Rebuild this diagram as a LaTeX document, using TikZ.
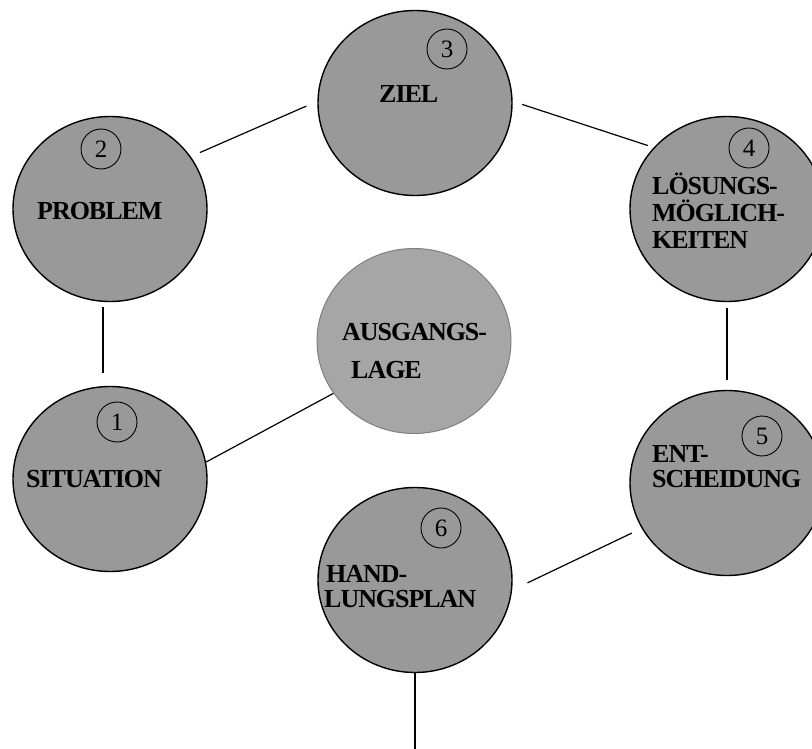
\documentclass[tikz,border=0pt]{standalone}
\usepackage{fontspec}
\setmainfont{Liberation Serif}
\newfontfamily\wordfont[LetterSpace=-4]{Liberation Serif}
\usetikzlibrary{shapes.geometric}
\definecolor{phasegray}{RGB}{153,153,153}
\definecolor{hubgray}{RGB}{166,166,166}
\definecolor{hubline}{RGB}{128,128,128}
\begin{document}
\begin{tikzpicture}
    [x=1pt,y=-1pt,
     phase/.style={ellipse,draw,line width=1.4pt,fill=phasegray,minimum width=194pt,minimum height=185pt,inner sep=0},
     hub/.style={ellipse,draw=hubline,line width=1pt,fill=hubgray,minimum width=194pt,minimum height=185pt,inner sep=0},
     num/.style={circle,draw,line width=0.9pt,minimum size=40pt,inner sep=0,font=\fontsize{25}{25}\selectfont},
     word/.style={anchor=base west,inner sep=0,font=\wordfont\fontsize{26}{26}\selectfont\bfseries},
     link/.style={line width=1.2pt}]
    \useasboundingbox (0,0) rectangle (812,749);

    \node[phase] (p1) at (110,479) {};
    \node[phase] (p2) at (110,209) {};
    \node[phase] (p3) at (415,103) {};
    \node[phase] (p4) at (727,209) {};
    \node[phase] (p5) at (727,483) {};
    \node[phase] (p6) at (415,580) {};
    \node[hub]   (hub) at (414,341) {};

    \node[num] (n1) at (117,422) {1};
    \node[num] (n2) at (101,149) {2};
    \node[num] (n3) at (447,49)  {3};
    \node[num] (n4) at (749,148) {4};
    \node[num] (n5) at (762,436) {5};
    \node[num] (n6) at (441,528) {6};

    \node[word] (t1)  at (26,487)  {SITUATION};
    \node[word] (t2)  at (37,220)  {PROBLEM};
    \node[word] (t3)  at (379,103) {ZIEL};
    \node[word] (t4a) at (652,195) {LÖSUNGS-};
    \node[word] (t4b) at (652,222) {MÖGLICH-};
    \node[word] (t4c) at (652,248) {KEITEN};
    \node[word] (t5a) at (652,462) {ENT-};
    \node[word] (t5b) at (652,487) {SCHEIDUNG};
    \node[word] (t6a) at (326,582) {HAND-};
    \node[word] (t6b) at (324,607) {LUNGSPLAN};
    \node[word] (h1)  at (342,340) {AUSGANGS-};
    \node[word] (h2)  at (351,378) {LAGE};

    \foreach \from/\to/\sa/\sb in {p2.33/p3.179/10/12,p3.1/p4.140/10/6,p1.10/hub.213/0/0,p5.208/p6.354/11/17}
      \draw[link,shorten <=\sa pt,shorten >=\sb pt] (\from) -- (\to);
    \draw[link,shorten <=5pt,shorten >=13pt] ([xshift=-7pt]p2.south) -- ([xshift=-7pt]p1.north);
    \draw[link,shorten <=6pt,shorten >=10pt] (p4.south) -- (p5.north);
    \coordinate (foot) at (415,749);
    \draw[link] (p6.south) -- (foot);
\end{tikzpicture}
\end{document}
